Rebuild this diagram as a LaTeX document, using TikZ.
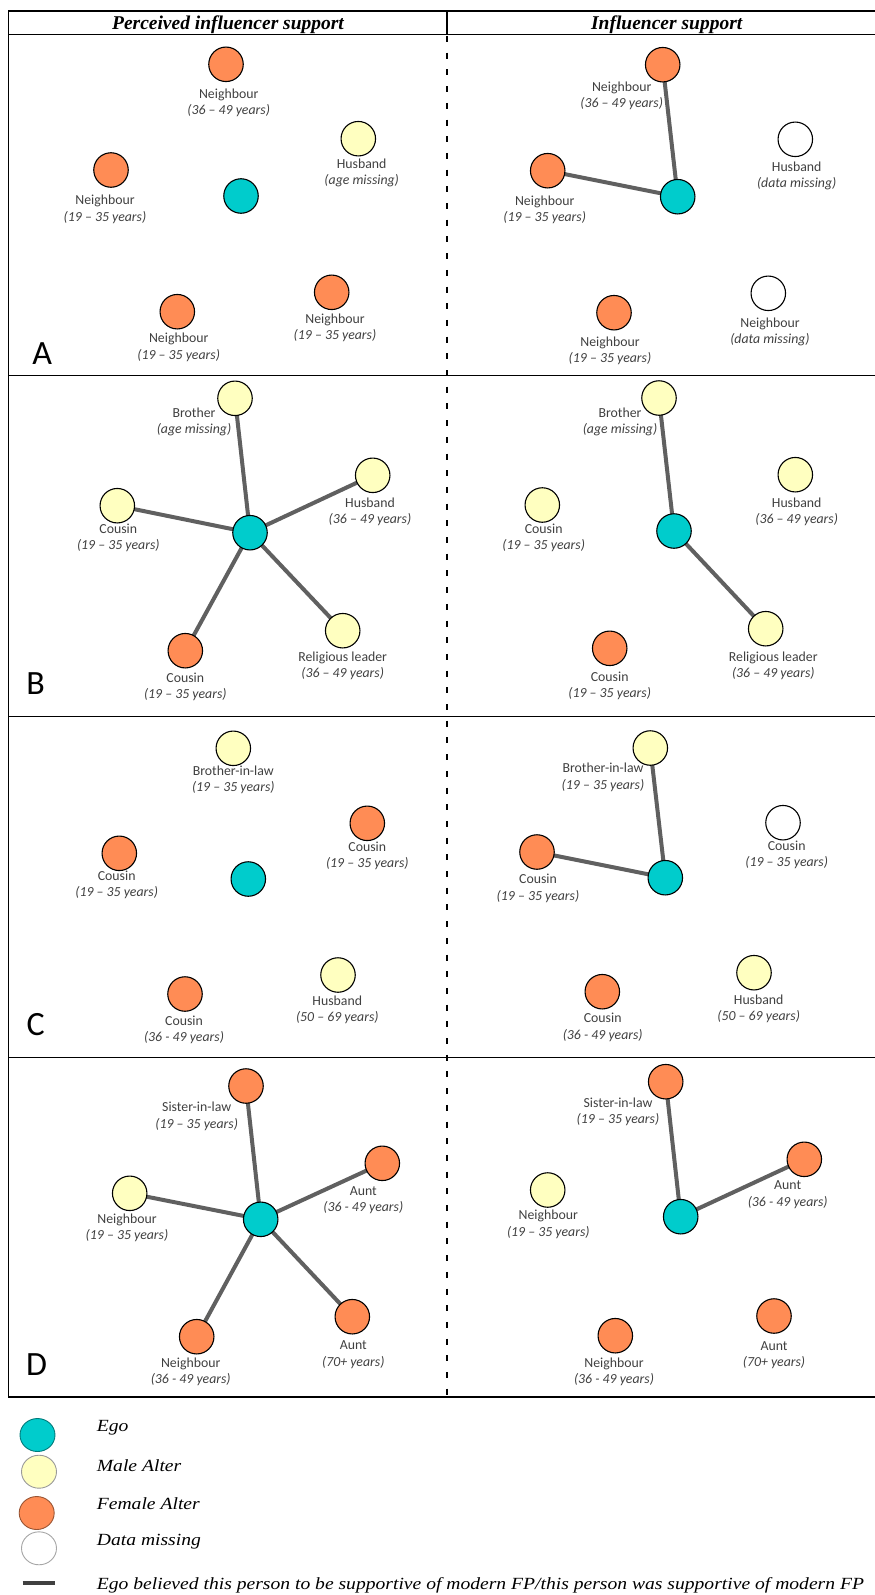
\documentclass[tikz,border=0pt]{standalone}
\usepackage{fontspec}
\usepackage{graphicx}
\setmainfont{Liberation Serif}
\newfontfamily\labfont{Carlito}
\usetikzlibrary{backgrounds,shapes.geometric}
\definecolor{egoC}{HTML}{00CCCC}
\definecolor{maleC}{HTML}{FFFFC0}
\definecolor{femC}{HTML}{FF8C55}
\definecolor{edgeC}{HTML}{606060}
\definecolor{txtC}{HTML}{404040}
\tikzset{
  pers/.style={circle, draw=black, line width=1.1pt, minimum size=34.5pt, inner sep=0pt},
  ego/.style={pers, fill=egoC},
  male/.style={pers, fill=maleC},
  female/.style={pers, fill=femC},
  missing/.style={pers, fill=white},
  lab/.style={align=center, inner sep=0pt, text=txtC, font=\labfont\fontsize{13.8}{16.6}\selectfont},
  tie/.style={draw=edgeC, line width=4pt},
  frameline/.style={line width=1.3pt},
  panelletter/.style={font=\labfont\fontsize{34}{40}\selectfont, inner sep=0pt},
  head/.style={font=\fontsize{19.5}{23}\selectfont\bfseries\itshape, inner sep=0pt, anchor=base},
  legtext/.style={font=\fontsize{19.6}{23}\selectfont\itshape, inner sep=0pt, anchor=base west},
  legell/.style={ellipse, minimum width=35pt, minimum height=33pt, inner sep=0pt, line width=0.9pt},
}
\newcommand\alter[8]{%
  \node[#2] (#1) at (#3,-#4) {};
  \node[lab] (#1l) at (#5,-#6) {#7\\\textit{#8}};
}
\newcommand\legtxt[1]{\scalebox{1}[0.87]{#1}}
\begin{document}
\begin{tikzpicture}[x=1pt,y=1pt]
\useasboundingbox (0,0) rectangle (875,-1595);
% frame
\draw[frameline] (875,-11) -- (8.3,-11) -- (8.3,-1397) -- (875,-1397);
\draw[frameline] (8.3,-34.3) -- (875,-34.3);
\draw[frameline] (8.3,-375.5) -- (875,-375.5);
\draw[frameline] (8.3,-716.5) -- (875,-716.5);
\draw[frameline] (8.3,-1057.3) -- (875,-1057.3);
\draw[frameline] (447,-11) -- (447,-34.3);
\draw[line width=1.8pt, dash pattern=on 6pt off 10.7pt] (447,-36) -- (447,-1397);
% headers
\node[head] (h1) at (228,-30) {Perceived influencer support};
\node[head] (h2) at (666.7,-30) {Influencer support};
% letters
\node[panelletter] (lA) at (42.3,-353.3) {A};
\node[panelletter] (lB) at (35.7,-683.3) {B};
\node[panelletter] (lC) at (35.7,-1024.3) {C};
\node[panelletter] (lD) at (36.7,-1364.3) {D};

% ---------- Panel A left
\node[ego] (aLe) at (241,-196) {};
\alter{aL1}{female}{226}{64.3}{228.7}{102.7}{Neighbour}{(36 – 49 years)}
\alter{aL2}{male}{358.3}{138.7}{361.7}{173}{Husband}{(age missing)}
\alter{aL3}{female}{111}{170}{105}{209.2}{Neighbour}{(19 – 35 years)}
\alter{aL4}{female}{177.3}{311.7}{178.7}{347.5}{Neighbour}{(19 – 35 years)}
\alter{aL5}{female}{331.7}{292.3}{335}{328}{Neighbour}{(19 – 35 years)}
% ---------- Panel A right
\node[ego] (aRe) at (677.7,-196.7) {};
\alter{aR1}{female}{662.7}{64.7}{621.7}{96}{Neighbour}{(36 – 49 years)}
\alter{aR2}{female}{547.7}{170.7}{544.7}{210}{Neighbour}{(19 – 35 years)}
\alter{aR3}{missing}{795.3}{139.3}{796.7}{175.7}{Husband}{(data missing)}
\alter{aR4}{female}{614}{312.7}{610}{350.7}{Neighbour}{(19 – 35 years)}
\alter{aR5}{missing}{768.3}{293.3}{770}{331.7}{Neighbour}{(data missing)}

% ---------- Panel B left
\node[ego] (bLe) at (250,-532.7) {};
\alter{bL1}{male}{235}{398.3}{194}{422}{Brother}{(age missing)}
\alter{bL2}{male}{372.7}{475.3}{370}{511.8}{Husband}{(36 – 49 years)}
\alter{bL3}{male}{117.3}{505.7}{118.3}{537.7}{Cousin}{(19 – 35 years)}
\alter{bL4}{female}{185.3}{650.7}{185.3}{686.7}{Cousin}{(19 – 35 years)}
\alter{bL5}{male}{342.7}{630.7}{342.7}{665.8}{Religious leader}{(36 – 49 years)}
% ---------- Panel B right
\node[ego] (bRe) at (674,-531) {};
\alter{bR1}{male}{659}{398}{620}{422}{Brother}{(age missing)}
\alter{bR2}{male}{795.3}{474.7}{796.7}{511.8}{Husband}{(36 – 49 years)}
\alter{bR3}{male}{542.3}{505}{543.7}{537.7}{Cousin}{(19 – 35 years)}
\alter{bR4}{female}{609.7}{648.3}{609.7}{685.8}{Cousin}{(19 – 35 years)}
\alter{bR5}{male}{765.7}{628.7}{773.3}{665.7}{Religious leader}{(36 – 49 years)}

% ---------- Panel C left
\node[ego] (cLe) at (248.3,-879) {};
\alter{cL1}{male}{233.3}{748.3}{233.3}{780}{Brother-in-law}{(19 – 35 years)}
\alter{cL2}{female}{367.3}{823.3}{367.3}{856}{Cousin}{(19 – 35 years)}
\alter{cL3}{female}{119.3}{853.3}{116.7}{885}{Cousin}{(19 – 35 years)}
\alter{cL4}{female}{185}{994}{184}{1030}{Cousin}{(36 - 49 years)}
\alter{cL5}{male}{338}{975}{337.3}{1010}{Husband}{(50 – 69 years)}
% ---------- Panel C right
\node[ego] (cRe) at (665.3,-877.7) {};
\alter{cR1}{male}{650.3}{748}{603}{777.3}{Brother-in-law}{(19 – 35 years)}
\alter{cR2}{missing}{783}{822.7}{786.7}{855}{Cousin}{(19 – 35 years)}
\alter{cR3}{female}{537}{852}{538}{888.3}{Cousin}{(19 – 35 years)}
\alter{cR4}{female}{602.3}{991.7}{602.7}{1027.2}{Cousin}{(36 - 49 years)}
\alter{cR5}{male}{754}{972.7}{758.7}{1009}{Husband}{(50 – 69 years)}

% ---------- Panel D left
\node[ego] (dLe) at (260.7,-1219.3) {};
\alter{dL1}{female}{246}{1086}{196.7}{1116.3}{Sister-in-law}{(19 – 35 years)}
\alter{dL2}{female}{382.3}{1163.3}{363.3}{1200.2}{Aunt}{(36 - 49 years)}
\alter{dL3}{male}{129.7}{1193.3}{127}{1227.8}{Neighbour}{(19 – 35 years)}
\alter{dL4}{female}{196.7}{1336.7}{190.7}{1372}{Neighbour}{(36 - 49 years)}
\alter{dL5}{female}{352.3}{1316.7}{353.3}{1354.8}{Aunt}{(70+ years)}
% ---------- Panel D right
\node[ego] (dRe) at (680.7,-1216.7) {};
\alter{dR1}{female}{665.7}{1081.7}{618}{1112}{Sister-in-law}{(19 – 35 years)}
\alter{dR2}{female}{804.3}{1159.3}{787.7}{1194.7}{Aunt}{(36 - 49 years)}
\alter{dR3}{male}{547.7}{1190}{548.3}{1224.3}{Neighbour}{(19 – 35 years)}
\alter{dR4}{female}{615.3}{1335.7}{614}{1372}{Neighbour}{(36 - 49 years)}
\alter{dR5}{female}{774}{1316}{774}{1355.3}{Aunt}{(70+ years)}

% ---------- ties
\begin{pgfonlayer}{background}
\draw[tie] (aRe.center) -- (aR1.center);
\draw[tie] (aRe.center) -- (aR2.center);
\foreach \n in {bL1,bL2,bL3,bL4,bL5} \draw[tie] (bLe.center) -- (\n.center);
\draw[tie] (bRe.center) -- (bR1.center);
\draw[tie] (bRe.center) -- (bR5.center);
\draw[tie] (cRe.center) -- (cR1.center);
\draw[tie] (cRe.center) -- (cR3.center);
\foreach \n in {dL1,dL2,dL3,dL4,dL5} \draw[tie] (dLe.center) -- (\n.center);
\draw[tie] (dRe.center) -- (dR1.center);
\draw[tie] (dRe.center) -- (dR2.center);
\end{pgfonlayer}

% ---------- legend
\node[legell, fill=egoC, draw=egoC!60!black] (kego) at (37.5,-1435) {};
\node[legell, fill=maleC, draw=black!40] (kmale) at (39,-1471.7) {};
\node[legell, fill=femC, draw=femC!60!black] (kfem) at (36.7,-1513) {};
\node[legell, fill=white, draw=black!35] (kmiss) at (39,-1548.3) {};
\coordinate (kt1) at (22.7,-1583);
\coordinate (kt2) at (55,-1583);
\draw[line width=3.3pt, draw=black!75] (kt1) -- (kt2);
\node[legtext] (tego) at (96.7,-1431.7) {\legtxt{Ego}};
\node[legtext] (tmale) at (96.7,-1471.7) {\legtxt{Male Alter}};
\node[legtext] (tfem) at (96.7,-1509.3) {\legtxt{Female Alter}};
\node[legtext] (tmiss) at (96.7,-1545) {\legtxt{Data missing}};
\node[legtext] (ttie) at (96.7,-1589.3) {\legtxt{Ego believed this person to be supportive of modern FP/this person was supportive of modern FP}};
\end{tikzpicture}
\end{document}
